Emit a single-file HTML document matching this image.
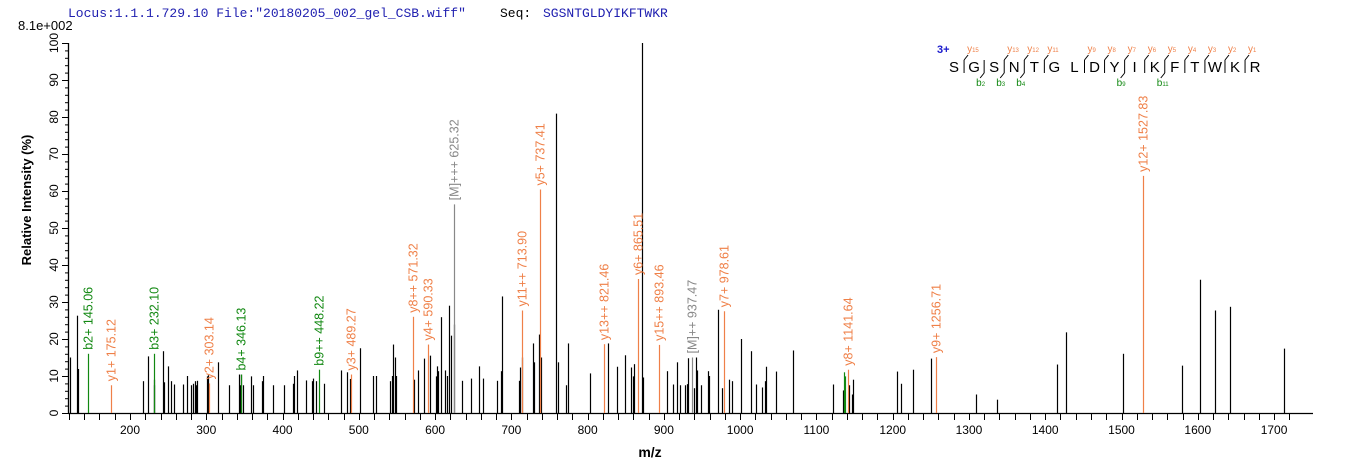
<!DOCTYPE html>
<html><head><meta charset="utf-8">
<style>
html,body{margin:0;padding:0;background:#fff;width:1362px;height:473px;overflow:hidden}
svg{display:block;font-family:"Liberation Sans",sans-serif}
</style></head>
<body>
<svg id="chart" width="1362" height="473" viewBox="0 0 1362 473">
<text x="68" y="17" font-family="Liberation Mono,monospace" font-size="13" fill="#2020b0">Locus:1.1.1.729.10 File:"20180205_002_gel_CSB.wiff"</text>
<text x="500" y="17" font-family="Liberation Mono,monospace" font-size="13" fill="#000">Seq:</text>
<text x="543" y="17" font-family="Liberation Mono,monospace" font-size="13" fill="#2020b0">SGSNTGLDYIKFTWKR</text>
<text x="18" y="30" font-size="13" fill="#000">8.1e+002</text>
<text transform="translate(31,200) rotate(-90)" text-anchor="middle" font-size="13" font-weight="bold" fill="#000">Relative   Intensity (%)</text>
<text x="650" y="457" text-anchor="middle" font-size="14" font-weight="bold" fill="#000">m/z</text>
<g id="axes"></g>
<g id="peaks"></g>
<g id="ann"></g>
<g id="seqann"></g>
</svg>
<script>
// ---- data ----
const peakMz = [121.7,130.9,132.2,216.6,223.2,231.0,231.9,243.7,245.0,250.3,253.3,258.1,269.0,274.3,279.5,282.1,284.7,286.0,287.3,300.4,302.6,314.9,329.3,342.4,343.7,345.0,347.6,358.1,360.7,372.5,374.7,387.8,401.4,413.2,415.4,418.4,430.2,438.1,439.4,443.3,453.9,476.2,484.1,488.0,502.0,518.2,522.2,540.5,543.1,544.4,547.1,548.4,572.0,577.2,585.1,593.8,600.8,602.1,603.4,607.3,612.6,615.2,617.8,620.4,624.8,635.7,647.5,658.0,663.3,681.6,686.8,688.2,710.4,711.7,714.3,728.8,730.1,736.7,739.3,758.9,761.6,772.0,774.7,803.5,826.5,838.3,848.8,856.6,859.3,860.6,871.7,873.0,904.4,912.2,917.5,921.4,928.0,930.6,931.9,939.8,942.5,943.8,949.0,958.2,959.5,971.3,976.5,985.6,989.5,1001.5,1014.6,1021.1,1029.0,1033.0,1034.3,1047.4,1069.7,1122.2,1135.3,1143.2,1147.1,1148.4,1206.1,1210.5,1227.0,1250.6,1308.8,1337.1,1415.8,1427.6,1502.4,1578.9,1602.5,1623.0,1642.6,1712.7];
const peakInt = [15,26.3,11.9,8.6,15.3,9,7.5,16.7,8.3,12.6,8.6,7.7,7.7,10,7.5,7.9,8.6,7.5,8.7,9.9,10.2,13.7,7.5,10.4,7.5,10.4,7.5,9.9,7.5,8.6,10,7.5,7.5,7.9,10,11.5,8.8,8.6,9.3,8.6,7.9,11.5,11,9.2,17.5,10,10,8.6,10,18.5,15,10,9,11.5,14.7,15.5,9.9,12.6,11.3,25.9,11.5,10,29,20.9,23.9,8.7,9.3,12.6,9.3,8.7,11.3,31.5,8.7,12.3,15,18.8,13.7,21.2,15,80.9,13.7,7.5,18.8,10.7,18.8,12.5,15.6,12.3,9.9,13.2,100,9.6,11.3,7.7,13.7,7.5,7.5,7.8,14.8,6.7,15,11.5,7.5,11.3,10,27.9,6.7,9,8.6,20,16.7,7.7,6.9,8.6,12.5,11.2,16.9,7.7,6.1,7.5,5,9,11.2,7.9,11.7,14.7,5,3.6,13.1,21.8,16,12.8,36,27.7,28.7,17.4];
const annMz = [145.06,175.12,232.10,303.14,346.13,448.22,489.27,571.32,590.33,625.32,713.90,737.41,821.46,865.51,893.46,937.47,978.61,1136.6,1137.9,1141.64,1256.71,1527.83];
const annInt = [16,7.5,16,8,10.4,11.7,10.4,26,18.5,56.4,27.7,60.4,18.6,36.2,18.4,15,27.5,11,9.9,11.7,15.1,64.1];
const annLabel = ["b2+ 145.06","y1+ 175.12","b3+ 232.10","y2+ 303.14","b4+ 346.13","b9++ 448.22","y3+ 489.27","y8++ 571.32","y4+ 590.33","[M]+++ 625.32","y11++ 713.90","y5+ 737.41","y13++ 821.46","y6+ 865.51","y15++ 893.46","[M]++ 937.47","y7+ 978.61","","","y8+ 1141.64","y9+ 1256.71","y12+ 1527.83"];
const annType = ["b","y","b","y","b","b","y","y","y","m","y","y","y","y","y","m","y","b","b","y","y","y"];
const yTicks = [0,10,20,30,40,50,60,70,80,90,100];
const xTicks = [200,300,400,500,600,700,800,900,1000,1100,1200,1300,1400,1500,1600,1700];

// ---- scales ----
const X0=130, MZ0=200, PXPERDA=0.7627, Y0=413, PXPERPCT=3.70;
function xs(m){return X0+(m-MZ0)*PXPERDA;}
function ys(v){return Y0-v*PXPERPCT;}
const NS="http://www.w3.org/2000/svg";
function mk(tag,attrs,parent){const e=document.createElementNS(NS,tag);for(const k in attrs)e.setAttribute(k,attrs[k]);parent.appendChild(e);return e;}
const colors={b:"#118811",y:"#ef8048",m:"#888888"};

const axes=document.getElementById('axes');
let l=mk('line',{x1:68.5,y1:ys(100),x2:68.5,y2:Y0+0.5,stroke:'#000','stroke-width':1.3},axes);


l=mk('line',{x1:68,y1:Y0+0.5,x2:1313,y2:Y0+0.5,stroke:'#000','stroke-width':1.3},axes);


for(let v=0;v<=100;v+=2){
  const major=v%10===0;
  const t=mk('line',{x1:68,x2:major?62:65,y1:ys(v)+0.5,y2:ys(v)+0.5,stroke:'#000','stroke-width':1},axes);
  
  
}
yTicks.forEach(v=>{
  const t=mk('text',{transform:`translate(58,${ys(v)}) rotate(-90)`,'text-anchor':'middle','font-size':12,fill:'#000'},axes);
  t.textContent=v;
  
  
});
for(let m=120;m<=1720;m+=20){
  const t=mk('line',{x1:Math.round(xs(m))+0.5,x2:Math.round(xs(m))+0.5,y1:Y0,y2:Y0+7,stroke:'#000','stroke-width':1},axes);
  
  
}
xTicks.forEach(m=>{
  const t=mk('text',{x:xs(m),y:434,'text-anchor':'middle','font-size':12,fill:'#000'},axes);
  t.textContent=m;
  
  
});

const pg=document.getElementById('peaks');
peakMz.forEach((m,i)=>{
  const x=Math.round(xs(m))+0.5;
  const p=mk('line',{x1:x,x2:x,y1:Y0,y2:ys(peakInt[i]),stroke:'#000','stroke-width':1.2},pg);
  
  
});
const ag=document.getElementById('ann');
annMz.forEach((m,i)=>{
  const x=Math.round(xs(m))+0.5, y=ys(annInt[i]), c=colors[annType[i]];
  const p=mk('line',{x1:x,x2:x,y1:Y0,y2:y,stroke:c,'stroke-width':1.2},ag);
  
  
  if(annLabel[i]){
    const t=mk('text',{transform:`translate(${x+4},${y-4}) rotate(-90)`,'font-size':12.5,fill:c},ag);
    t.textContent=annLabel[i];
    
    
  }
});

// sequence annotation
const sg=document.getElementById('seqann');
const seq="SGSNTGLDYIKFTWKR".split("");
const yBreaks={1:"15",3:"13",4:"12",5:"11",7:"9",8:"8",9:"7",10:"6",11:"5",12:"4",13:"3",14:"2",15:"1"};
const bBreaks={2:"2",3:"3",4:"4",9:"9",11:"11"};
let t=mk('text',{x:937,y:53,'font-size':11,'font-weight':'bold',fill:'#1a1acc'},sg);
t.textContent="3+";


seq.forEach((ch,i)=>{
  const cx=954+i*20.07;
  const s=mk('text',{x:cx,y:72,'text-anchor':'middle','font-size':15,fill:'#000'},sg);
  s.textContent=ch;
  
  
  const bx=cx-10;
  if(yBreaks[i]||bBreaks[i]){
    const v=mk('line',{x1:bx,x2:bx,y1:60,y2:73,stroke:'#000','stroke-width':1},sg);
    
    
  }
  if(yBreaks[i]){
    const d=mk('line',{x1:bx,y1:60,x2:bx+4,y2:55,stroke:'#000','stroke-width':1},sg);
    
    
    const tt=mk('text',{x:bx+3,y:52,'font-size':10,fill:'#ef8048'},sg);
    tt.innerHTML='y<tspan font-size="6">'+yBreaks[i]+'</tspan>';
    
    
  }
  if(bBreaks[i]){
    const d=mk('line',{x1:bx,y1:73,x2:bx-4,y2:78,stroke:'#000','stroke-width':1},sg);
    
    
    const tt=mk('text',{x:bx-8,y:86,'font-size':10,fill:'#118811'},sg);
    tt.innerHTML='b<tspan font-size="6">'+bBreaks[i]+'</tspan>';
    
    
  }
});
</script>
</body></html>
